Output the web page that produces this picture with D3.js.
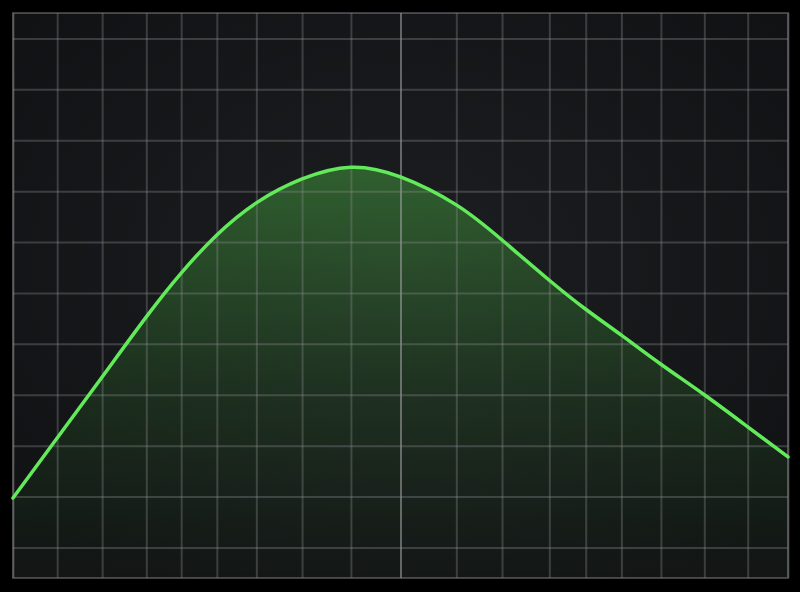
<!DOCTYPE html>
<html>
<head>
<meta charset="utf-8">
<script src="https://cdn.jsdelivr.net/npm/d3@7"></script>
<style>
  html, body { margin: 0; padding: 0; background: #000; }
  svg { display: block; }
</style>
</head>
<body>
<div id="chart"></div>
<script>
// grid positions (data units) - the vertical divisions are uneven in the picture
var xGrid = [0, 5.7, 11.5, 17.2, 21.7, 26.3, 31.4, 37.3, 43.6, 50, 57.2, 63.1, 69.2, 73.9, 78.5, 83.6, 89.2, 94.8, 100];
var yGrid = [0, 1, 2, 3, 4, 5, 6, 7, 8, 9, 10];

// curve samples
var curveX = [0, 5.7, 11.5, 17.2, 21.7, 26.3, 31.4, 37.3, 43.6, 50, 57.2, 63.1, 69.2, 73.9, 78.5, 83.6, 89.2, 94.8, 100];
var curveY = [0.97, 2.15, 3.35, 4.53, 5.39, 6.14, 6.77, 7.24, 7.47, 7.28, 6.73, 6.04, 5.25, 4.68, 4.17, 3.60, 3.00, 2.37, 1.78];

var svgWidth = 800;
var svgHeight = 592;

var margin = { top: 13, right: 12, bottom: 14, left: 13 };
var width = svgWidth - margin.left - margin.right;
var height = svgHeight - margin.top - margin.bottom;

var svg = d3.select("#chart")
  .append("svg")
  .attr("width", svgWidth)
  .attr("height", svgHeight);

var defs = svg.append("defs");

// soft vignette for the screen
var bg = defs.append("radialGradient")
  .attr("id", "screen")
  .attr("cx", "50%").attr("cy", "45%").attr("r", "65%");
bg.append("stop").attr("offset", "0%").attr("stop-color", "#1d1e21");
bg.append("stop").attr("offset", "100%").attr("stop-color", "#111214");

var xScale = d3.scaleLinear().domain([0, 100]).range([0, width]);
var yScale = d3.scaleLinear().domain([-0.6, 10.5]).range([height, 0]);

var peakY = yScale(d3.max(curveY));

var fillGrad = defs.append("linearGradient")
  .attr("id", "fillGrad")
  .attr("gradientUnits", "userSpaceOnUse")
  .attr("x1", 0).attr("x2", 0)
  .attr("y1", peakY).attr("y2", height);
fillGrad.append("stop").attr("offset", "0%").attr("stop-color", "#4fbf48").attr("stop-opacity", 0.42);
fillGrad.append("stop").attr("offset", "55%").attr("stop-color", "#3a9a35").attr("stop-opacity", 0.18);
fillGrad.append("stop").attr("offset", "100%").attr("stop-color", "#2a7a28").attr("stop-opacity", 0.03);

var chartGroup = svg.append("g")
  .attr("transform", `translate(${margin.left}, ${margin.top})`);

chartGroup.append("rect")
  .attr("width", width)
  .attr("height", height)
  .attr("fill", "url(#screen)");

var points = curveX.map(function(x, i) { return [x, curveY[i]]; });

// area under the curve
var area = d3.area()
  .x(d => xScale(d[0]))
  .y0(height)
  .y1(d => yScale(d[1]))
  .curve(d3.curveNatural);

chartGroup.append("path")
  .datum(points)
  .attr("d", area)
  .attr("fill", "url(#fillGrad)");

// grid via axes with full-length ticks
var gridColor = "rgba(140,140,145,0.34)";

var xAxis = d3.axisBottom(xScale)
  .tickValues(xGrid)
  .tickSize(-height)
  .tickFormat("");
var gx = chartGroup.append("g")
  .attr("transform", `translate(0, ${height})`)
  .call(xAxis);
gx.select(".domain").remove();
gx.selectAll(".tick line")
  .attr("stroke", d => d === 50 ? "rgba(165,165,170,0.55)" : gridColor)
  .attr("stroke-width", 2);

var yAxis = d3.axisLeft(yScale)
  .tickValues(yGrid)
  .tickSize(-width)
  .tickFormat("");
var gy = chartGroup.append("g").call(yAxis);
gy.select(".domain").remove();
gy.selectAll(".tick line")
  .attr("stroke", gridColor)
  .attr("stroke-width", 2);

// frame
chartGroup.append("rect")
  .attr("width", width)
  .attr("height", height)
  .attr("fill", "none")
  .attr("stroke", "rgba(140,140,145,0.45)")
  .attr("stroke-width", 2);

// the curve
var line = d3.line()
  .x(d => xScale(d[0]))
  .y(d => yScale(d[1]))
  .curve(d3.curveNatural);

chartGroup.append("path")
  .datum(points)
  .attr("d", line)
  .attr("fill", "none")
  .attr("stroke", "#62ea5b")
  .attr("stroke-width", 3.5)
  .attr("stroke-linecap", "round");
</script>
</body>
</html>
